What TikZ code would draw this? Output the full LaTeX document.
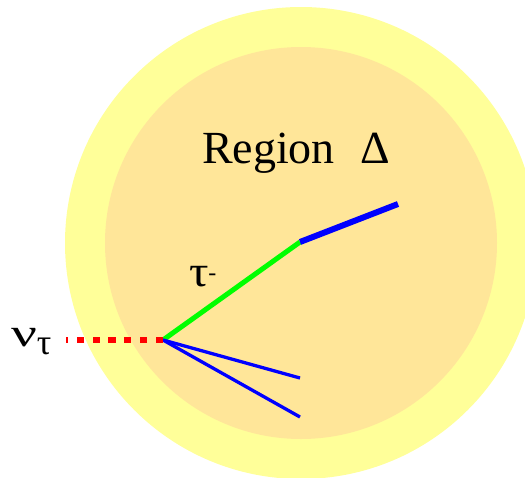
\documentclass[tikz,border=0pt]{standalone}
\usepackage{fontspec}
\setmainfont{Liberation Serif}
\begin{document}
\begin{tikzpicture}[x=1pt,y=-1pt,
  lbl/.style={inner sep=0pt, outer sep=0pt, font=\fontsize{44}{48}\selectfont},
  thickblue/.style={draw={rgb,255:red,0;green,0;blue,255}, line width=6pt},
  thinblue/.style={draw={rgb,255:red,0;green,0;blue,255}, line width=3.3pt},
  greentrack/.style={draw={rgb,255:red,0;green,255;blue,0}, line width=5pt},
  nutrack/.style={draw={rgb,255:red,255;green,0;blue,0}, line width=6pt, dash pattern=on 7.3pt off 8.5pt}]
\definecolor{outery}{RGB}{255,255,153}
\definecolor{innery}{RGB}{255,230,153}
\useasboundingbox (0,0) rectangle (525,477);
\clip (0,0) rectangle (525,477);
\fill[outery] (301,243) circle (236);
\fill[innery] (301,243) circle (196);
\coordinate (v) at (163,340);
\coordinate (nu) at (66,340);
\coordinate (kink) at (300,242);
\coordinate (e1) at (398,204);
\coordinate (e2) at (300,378);
\coordinate (e3) at (300,417);
\draw[greentrack] (v) -- (kink);
\draw[thickblue] (kink) -- (e1);
\draw[thinblue] (v) -- (e2);
\draw[thinblue] (v) -- (e3);
\draw[nutrack] (v) -- (nu);
\node[lbl, anchor=base west, font=\fontsize{46}{50}\selectfont] (region) at (202,163) {Region\hspace{0.55em}Δ};
\node[lbl, anchor=base west] (tau) at (189,286) {\scalebox{1.1}[1]{τ}\raisebox{6pt}{\fontsize{24}{26}\selectfont -}};
\node[lbl, anchor=base west] (nulbl) at (11,346) {\scalebox{1.3}[0.9]{ν}\raisebox{-8pt}{\fontsize{36}{38}\selectfont τ}};
\end{tikzpicture}
\end{document}
